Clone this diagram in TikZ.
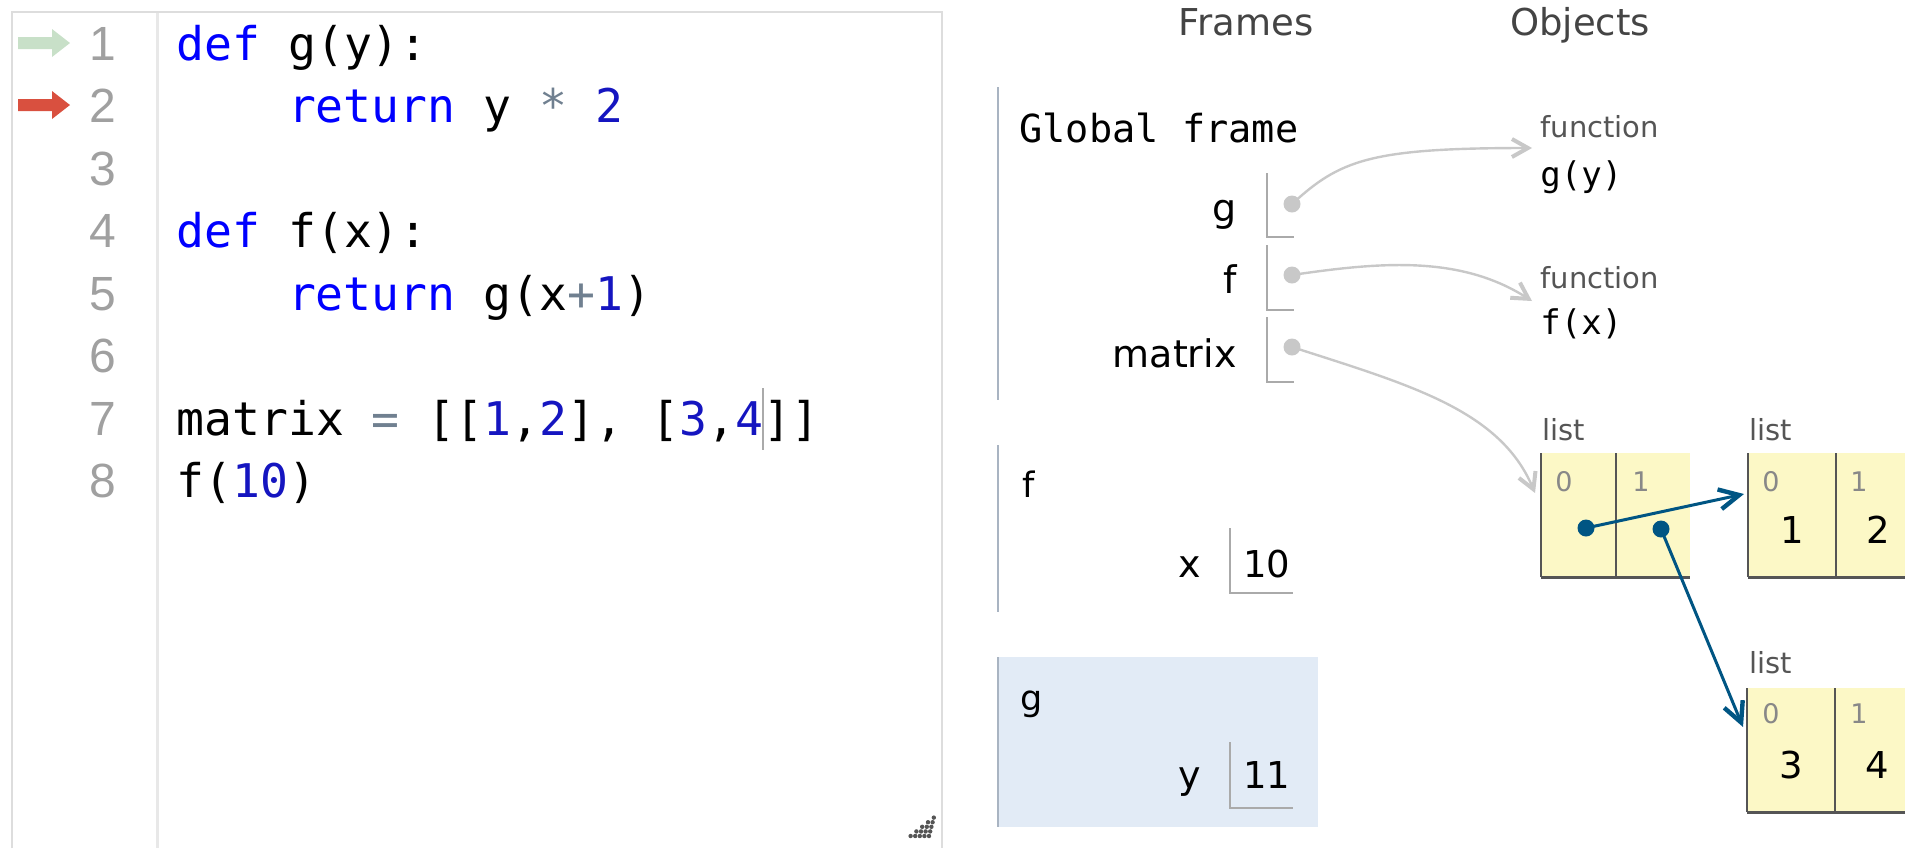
\documentclass[tikz,border=0pt]{standalone}
\usepackage{fontspec}
\usetikzlibrary{arrows.meta}
\newfontfamily\dvs{DejaVu Sans}
\newfontfamily\dvm{DejaVu Sans Mono}
\newfontfamily\lbs{Liberation Sans}
\newcommand\fsz[1]{\fontsize{#1}{#1}\selectfont}
\definecolor{kw}{HTML}{0000FF}
\definecolor{numc}{HTML}{1515C0}
\definecolor{opc}{HTML}{708090}
\definecolor{lng}{HTML}{A0A0A0}
\definecolor{bord}{HTML}{DDDDDD}
\definecolor{gut}{HTML}{E8E8E8}
\definecolor{grnarr}{HTML}{C8E0C8}
\definecolor{redarr}{HTML}{D9503F}
\definecolor{ttl}{HTML}{444444}
\definecolor{fline}{HTML}{A9B4C2}
\definecolor{hl}{HTML}{E2EBF6}
\definecolor{vbx}{HTML}{AAAAAA}
\definecolor{ptrg}{HTML}{C8C8C8}
\definecolor{ptrb}{HTML}{005583}
\definecolor{cellf}{HTML}{FCF8C6}
\definecolor{cellb}{HTML}{555555}
\definecolor{idx}{HTML}{888888}
\definecolor{lbl}{HTML}{555555}
\definecolor{grip}{HTML}{555555}
\definecolor{cur}{HTML}{AAAAAA}
\tikzset{
 codeline/.style={anchor=base west, inner sep=0pt, font={\dvm\fsz{23.2pt}}},
 lnum/.style={anchor=base east, inner sep=0pt, font={\lbs\fsz{24pt}}, text=lng},
 heading/.style={anchor=base, inner sep=0pt, font={\dvs\fsz{18.5pt}}, text=ttl},
 gname/.style={anchor=base west, inner sep=0pt, font={\dvm\fsz{19.3pt}}},
 fname/.style={anchor=base west, inner sep=0pt, font={\dvs\fsz{17.5pt}}},
 varname/.style={anchor=base east, inner sep=0pt, font={\dvs\fsz{19pt}}},
 valtext/.style={anchor=base west, inner sep=0pt, font={\dvs\fsz{18.5pt}}},
 typelbl/.style={anchor=base west, inner sep=0pt, font={\dvs\fsz{14.5pt}}, text=lbl},
 objmono/.style={anchor=base west, inner sep=0pt, font={\dvm\fsz{17pt}}},
 idxlbl/.style={anchor=base west, inner sep=0pt, font={\dvs\fsz{13.5pt}}, text=idx},
 cellval/.style={anchor=base, inner sep=0pt, font={\dvs\fsz{18.5pt}}},
 frameline/.style={draw=fline, line width=1.2pt},
 vbox/.style={draw=vbx, line width=1pt},
 gdot/.style={circle, fill=ptrg, inner sep=0pt, minimum size=8.5pt},
 bdot/.style={circle, fill=ptrb, inner sep=0pt, minimum size=8.5pt},
 gptr/.style={draw=ptrg, line width=1.2pt, -{Straight Barb[length=8pt,width=9pt,line width=2pt]}},
 bptr/.style={draw=ptrb, line width=1.5pt, -{Straight Barb[length=10pt,width=10pt,line width=2.2pt]}},
 cellline/.style={draw=cellb, line width=1pt},
 cellbottom/.style={draw=cellb, line width=1.5pt},
 cursorline/.style={draw=cur, line width=1pt},
}
\begin{document}
\begin{tikzpicture}[x=0.5pt,y=-0.5pt]
\useasboundingbox (0,0) rectangle (1905,848);
% ---------- code panel ----------
\draw[bord, line width=1pt] (12,848) -- (12,12) -- (942,12) -- (942,848);
\draw[gut, line width=1.5pt] (157,13) -- (157,848);
% execution arrows
\fill[grnarr] (18,37) -- (52,37) -- (52,29) -- (70,43) -- (52,57) -- (52,49) -- (18,49) -- cycle;
\fill[redarr] (18,99) -- (52,99) -- (52,91) -- (70,105) -- (52,119) -- (52,111) -- (18,111) -- cycle;
% line numbers
\node[lnum] (ln1) at (117,60) {1};
\node[lnum] (ln2) at (117,122.5) {2};
\node[lnum] (ln3) at (117,185) {3};
\node[lnum] (ln4) at (117,247.5) {4};
\node[lnum] (ln5) at (117,310) {5};
\node[lnum] (ln6) at (117,372.5) {6};
\node[lnum] (ln7) at (117,435) {7};
\node[lnum] (ln8) at (117,497.5) {8};
% code
\node[codeline] (l1) at (176,60) {\textcolor{kw}{def} g(y):};
\node[codeline] (l2) at (287.6,122.5) {\textcolor{kw}{return} y \textcolor{opc}{*} \textcolor{numc}{2}};
\node[codeline] (l4) at (176,247.5) {\textcolor{kw}{def} f(x):};
\node[codeline] (l5) at (287.6,310) {\textcolor{kw}{return} g(x\textcolor{opc}{+}\textcolor{numc}{1})};
\node[codeline] (l7) at (176,435) {matrix \textcolor{opc}{=} [[\textcolor{numc}{1},\textcolor{numc}{2}], [\textcolor{numc}{3},\textcolor{numc}{4}};
\node[codeline] (l7b) at (l7.base east) {]]};
\draw[cursorline] (l7.base east) ++(0,-47) -- ++(0,62);
\node[codeline] (l8) at (176,497.5) {f(\textcolor{numc}{10})};
% resize grip
\foreach \a in {0,...,4} {
  \foreach \b in {0,...,4} {
    \pgfmathtruncatemacro\s{\a+\b}
    \ifnum\s<5 \fill[grip] (929-\a*4.6+\b*1.2,836-\b*4.6) circle (1.1pt); \fi
  }
}
% ---------- headings ----------
\node[heading] (hframes) at (1246,35) {Frames};
\node[heading] (hobjects) at (1580,35) {Objects};
% ---------- global frame ----------
\draw[frameline] (998,87) -- (998,400);
\node[gname] (gf) at (1019,142) {Global frame};
\node[varname] (vg) at (1237,221) {g};
\node[varname] (vf) at (1237,293) {f};
\node[varname] (vm) at (1237,367) {matrix};
\draw[vbox] (1267,173) -- (1267,237) -- (1294,237);
\draw[vbox] (1267,245) -- (1267,310) -- (1294,310);
\draw[vbox] (1267,317) -- (1267,382) -- (1294,382);
\node[gdot] (dg) at (1292,204) {};
\node[gdot] (df) at (1292,275) {};
\node[gdot] (dm) at (1292,347) {};
% ---------- frame f ----------
\draw[frameline] (998,445) -- (998,612);
\node[fname] (ff) at (1022,497) {f};
\node[varname] (vx) at (1201,577) {x};
\draw[vbox] (1230,528) -- (1230,593) -- (1293,593);
\node[valtext] (x10) at (1243,577) {10};
% ---------- frame g ----------
\fill[hl] (998,657) rectangle (1318,827);
\draw[frameline] (998,657) -- (998,827);
\node[fname] (fg) at (1020,710) {g};
\node[varname] (vy) at (1201,788) {y};
\draw[vbox] (1230,742) -- (1230,808) -- (1293,808);
\node[valtext] (y11) at (1243,788) {11};
% ---------- function objects ----------
\node[typelbl] (fn1) at (1540,137) {function};
\node[objmono] (gy) at (1540,186) {g(y)};
\coordinate (fn1in) at (1532,148);
\node[typelbl] (fn2) at (1540,288) {function};
\node[objmono] (fx) at (1540,334) {f(x)};
\coordinate (fn2in) at (1532,301);
% ---------- list 1 ----------
\node[typelbl] (t1) at (1542,440) {list};
\fill[cellf] (1541,453) rectangle (1690,577);
\draw[cellline] (1541,453) -- (1541,577);
\draw[cellline] (1616,453) -- (1616,577);
\draw[cellbottom] (1541,577) -- (1690,577);
\node[idxlbl] (i10) at (1555,491) {0};
\node[idxlbl] (i11) at (1632,491) {1};
\coordinate (L1in) at (1535,493);
% ---------- list 2 ----------
\node[typelbl] (t2) at (1749,440) {list};
\fill[cellf] (1748,453) rectangle (1905,577);
\draw[cellline] (1748,453) -- (1748,577);
\draw[cellline] (1836,453) -- (1836,577);
\draw[cellbottom] (1748,577) -- (1905,577);
\node[idxlbl] (i20) at (1762,491) {0};
\node[idxlbl] (i21) at (1850,491) {1};
\node[cellval] (v21) at (1792,543) {1};
\node[cellval] (v22) at (1878,543) {2};
\coordinate (L2in) at (1744,494);
% ---------- list 3 ----------
\node[typelbl] (t3) at (1749,673) {list};
\fill[cellf] (1747,688) rectangle (1905,812);
\draw[cellline] (1747,688) -- (1747,812);
\draw[cellline] (1835,688) -- (1835,812);
\draw[cellbottom] (1747,812) -- (1905,812);
\node[idxlbl] (i30) at (1762,723) {0};
\node[idxlbl] (i31) at (1850,723) {1};
\node[cellval] (v31) at (1791,778) {3};
\node[cellval] (v32) at (1877,778) {4};
\coordinate (L3in) at (1743,727);
% ---------- pointers ----------
\draw[gptr] (dg.center) .. controls (1340,160) and (1370,148) .. (fn1in);
\draw[gptr] (df.center) .. controls (1380,262) and (1460,255) .. (fn2in);
\draw[gptr] (dm.center) .. controls (1410,385) and (1500,410) .. (L1in);
\node[bdot] (p10) at (1586,528) {};
\node[bdot] (p11) at (1661,529) {};
\draw[bptr] (p10.center) -- (L2in);
\draw[bptr] (p11.center) -- (L3in);
\end{tikzpicture}
\end{document}
